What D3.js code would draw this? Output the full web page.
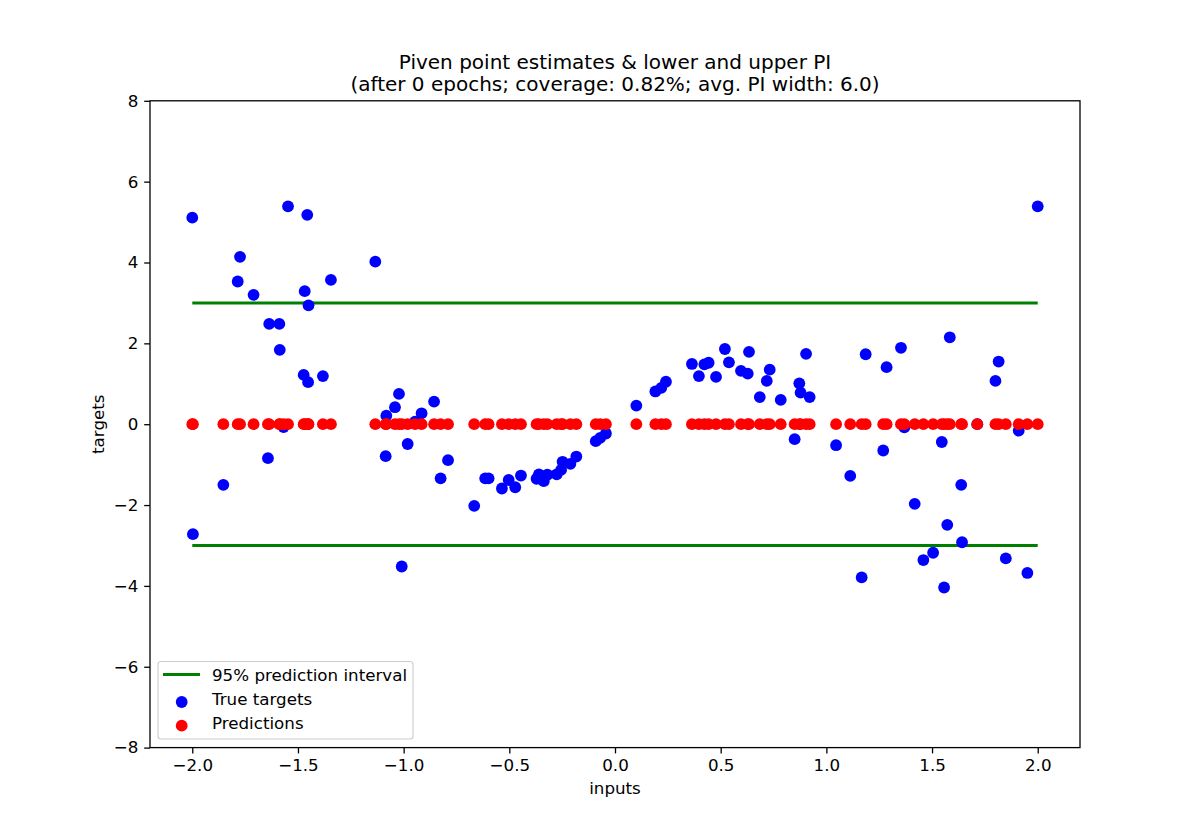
<!DOCTYPE html>
<html>
<head>
<meta charset="utf-8">
<script src="https://cdn.jsdelivr.net/npm/d3@7"></script>
<style>
  body { margin: 0; background: #fff; }
  svg { font-family: "DejaVu Sans", sans-serif; }
</style>
</head>
<body>
<svg id="chart" width="1200" height="840"></svg>
<script>
// data
var inputs = [-2.000, -1.997, -1.853, -1.785, -1.774, -1.710, -1.642, -1.636, -1.588, -1.586,
    -1.568, -1.547, -1.473, -1.468, -1.456, -1.452, -1.450, -1.382, -1.344, -1.134,
    -1.085, -1.082, -1.041, -1.022, -1.009, -0.981, -0.946, -0.915, -0.856, -0.825,
    -0.790, -0.666, -0.614, -0.598, -0.535, -0.503, -0.472, -0.445, -0.371, -0.360,
    -0.337, -0.320, -0.276, -0.255, -0.248, -0.211, -0.183, -0.091, -0.070, -0.043,
    0.101, 0.191, 0.219, 0.241, 0.364, 0.397, 0.423, 0.443, 0.478, 0.520,
    0.539, 0.596, 0.628, 0.634, 0.685, 0.718, 0.732, 0.784, 0.850, 0.872,
    0.878, 0.904, 0.921, 1.046, 1.113, 1.167, 1.186, 1.269, 1.285, 1.353,
    1.369, 1.418, 1.459, 1.505, 1.546, 1.557, 1.572, 1.584, 1.638, 1.642,
    1.714, 1.800, 1.815, 1.849, 1.910, 1.951, 2.000];
var trueTargets = [5.11, -2.72, -1.50, 3.53, 4.14, 3.20, -0.84, 2.48, 2.48, 1.84,
    -0.07, 5.39, 1.22, 3.29, 5.18, 1.04, 2.94, 1.19, 3.57, 4.02,
    -0.79, 0.21, 0.42, 0.75, -3.52, -0.49, 0.06, 0.27, 0.56, -1.34,
    -0.89, -2.02, -1.34, -1.34, -1.59, -1.38, -1.56, -1.27, -1.35, -1.24,
    -1.41, -1.25, -1.24, -1.13, -0.93, -0.98, -0.80, -0.42, -0.34, -0.23,
    0.46, 0.81, 0.90, 1.05, 1.49, 1.19, 1.48, 1.52, 1.17, 1.86,
    1.53, 1.32, 1.25, 1.79, 0.67, 1.07, 1.35, 0.60, -0.37, 1.01,
    0.78, 1.74, 0.67, -0.52, -1.28, -3.79, 1.73, -0.65, 1.41, 1.89,
    -0.08, -1.97, -3.36, -3.18, -0.44, -4.04, -2.49, 2.15, -1.50, -2.92,
    0.00, 1.07, 1.55, -3.32, -0.16, -3.68, 5.39];
var predictions = inputs.map(function () { return 0; });
var piLower = -3.0;
var piUpper = 3.0;
var xTicks = [-2.0, -1.5, -1.0, -0.5, 0.0, 0.5, 1.0, 1.5, 2.0];
var yTicks = [-8, -6, -4, -2, 0, 2, 4, 6, 8];
var legendLabels = ["95% prediction interval", "True targets", "Predictions"];

var svg = d3.select("#chart");
var plotLeft = 150, plotRight = 1080, plotTop = 100.8, plotBottom = 747.6;
var tickFont = "16.7px", titleFont = "20px";

var x = d3.scaleLinear().domain([-2.2, 2.2]).range([plotLeft, plotRight]);
var y = d3.scaleLinear().domain([-8, 8]).range([plotBottom, plotTop]);

function fmtMinus(s) { return s.replace("-", "\u2212"); }

// title
svg.append("text")
    .attr("x", (plotLeft + plotRight) / 2).attr("y", 69)
    .attr("text-anchor", "middle").attr("font-size", titleFont)
    .text("Piven point estimates & lower and upper PI");
svg.append("text")
    .attr("x", (plotLeft + plotRight) / 2).attr("y", 91)
    .attr("text-anchor", "middle").attr("font-size", titleFont)
    .text("(after 0 epochs; coverage: 0.82%; avg. PI width: 6.0)");

// prediction interval lines
var xMin = d3.min(inputs), xMax = d3.max(inputs);
[piUpper, piLower].forEach(function (v) {
    svg.append("line")
        .attr("x1", x(xMin)).attr("x2", x(xMax))
        .attr("y1", y(v)).attr("y2", y(v))
        .attr("stroke", "green")
        .attr("stroke-width", 3);
});

// true targets
svg.append("g").selectAll("circle")
    .data(inputs)
    .enter()
    .append("circle")
    .attr("cx", function (d) { return x(d); })
    .attr("cy", function (d, i) { return y(trueTargets[i]); })
    .attr("r", 5.9)
    .style("fill", "blue");

// predictions
svg.append("g").selectAll("circle")
    .data(inputs)
    .enter()
    .append("circle")
    .attr("cx", function (d) { return x(d); })
    .attr("cy", function (d, i) { return y(predictions[i]); })
    .attr("r", 5.9)
    .style("fill", "red");

// axes
var xAxis = svg.append("g")
    .attr("transform", "translate(0," + plotBottom + ")")
    .call(d3.axisBottom(x).tickValues(xTicks).tickSizeOuter(0).tickSize(5.8).tickPadding(5.8)
        .tickFormat(function (d) { return fmtMinus(d3.format(".1f")(d)); }));
var yAxis = svg.append("g")
    .attr("transform", "translate(" + plotLeft + ",0)")
    .call(d3.axisLeft(y).tickValues(yTicks).tickSizeOuter(0).tickSize(5.8).tickPadding(5.8)
        .tickFormat(function (d) { return fmtMinus(d3.format("d")(d)); }));
[xAxis, yAxis].forEach(function (a) {
    a.select(".domain").remove();
    a.selectAll("line").attr("stroke", "black").attr("stroke-width", 1.3);
    a.selectAll("text").attr("fill", "black").attr("font-size", tickFont)
        .attr("font-family", "DejaVu Sans, sans-serif");
});

// frame
svg.append("rect")
    .attr("x", plotLeft).attr("y", plotTop)
    .attr("width", plotRight - plotLeft).attr("height", plotBottom - plotTop)
    .attr("fill", "none").attr("stroke", "black").attr("stroke-width", 1.3);

// axis labels
svg.append("text")
    .attr("x", (plotLeft + plotRight) / 2).attr("y", 794)
    .attr("text-anchor", "middle").attr("font-size", tickFont)
    .text("inputs");
svg.append("text")
    .attr("transform", "translate(104," + (plotTop + plotBottom) / 2 + ") rotate(-90)")
    .attr("text-anchor", "middle").attr("font-size", tickFont)
    .text("targets");

// legend
var legend = svg.append("g");
legend.append("rect")
    .attr("x", 158).attr("y", 661.5)
    .attr("width", 255).attr("height", 77.5)
    .attr("rx", 3)
    .attr("fill", "white").attr("fill-opacity", 0.8)
    .attr("stroke", "#cccccc").attr("stroke-width", 1.1);
legend.append("line")
    .attr("x1", 163).attr("x2", 200)
    .attr("y1", 674.5).attr("y2", 674.5)
    .attr("stroke", "green").attr("stroke-width", 3);
legend.append("circle").attr("cx", 181.7).attr("cy", 702).attr("r", 5.9).style("fill", "blue");
legend.append("circle").attr("cx", 181.7).attr("cy", 725.7).attr("r", 5.9).style("fill", "red");
legend.selectAll("text.lbl")
    .data(legendLabels)
    .enter()
    .append("text")
    .attr("class", "lbl")
    .attr("x", 212)
    .attr("y", function (d, i) { return 680.5 + i * 24.3; })
    .attr("font-size", tickFont)
    .text(function (d) { return d; });
</script>
</body>
</html>
